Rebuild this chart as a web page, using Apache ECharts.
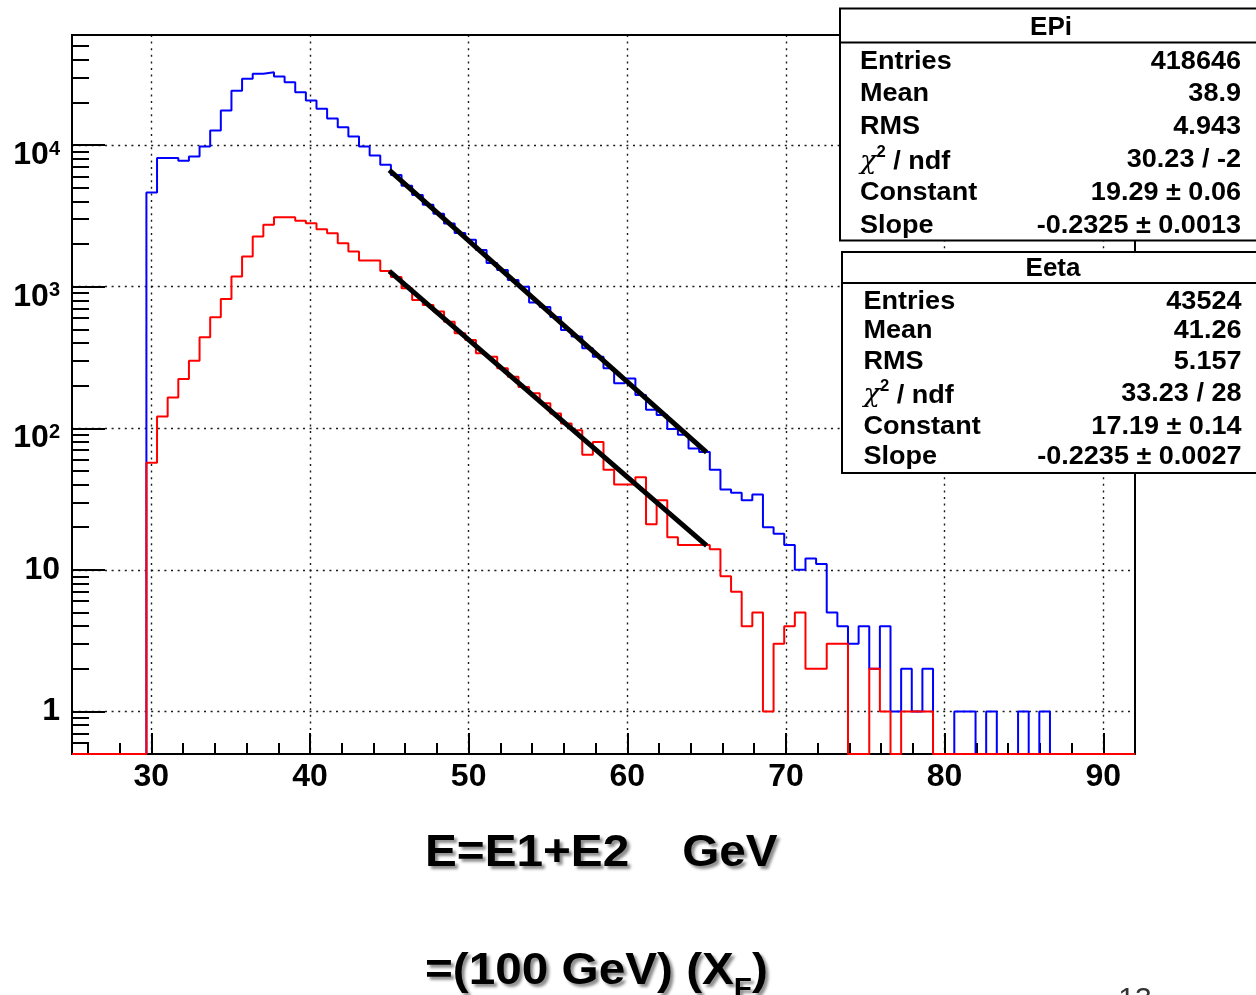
<!DOCTYPE html>
<html><head><meta charset="utf-8">
<script src="https://cdn.jsdelivr.net/npm/echarts@6/dist/echarts.min.js"></script>
<style>html,body{margin:0;padding:0;background:#fff;} #c{width:1256px;height:995px;}</style>
</head><body><div id="c"></div>
<script>
// ---------- data ----------
const binLow = 25;
const binWidth = 0.67;
// EPi (blue) bin contents, 100 bins from 25 to 92
const blueCounts = [
  0,0,0,0,0,0,0,4630,8110,8110,
  7760,8320,9790,12700,17600,24200,29500,31900,32700,30600,
  27800,23600,20700,18100,15400,13400,11500,9790,8450,7260,
  6150,5170,4450,3800,3270,2800,2400,2150,1820,1470,
  1315,1115,1000,775,720,610,495,445,367,320,
  265,208,225,172,135,124,99,90,72,68,
  51,37,35,31,34,20,18,15,10,12,
  11,5,4,3,4,2,4,1,2,1,
  2,0,0,1,1,0,1,0,0,1,
  0,1,0,0,0,0,0,0,0,0
];
// Eeta (red) bin contents
const redCounts = [
  0,0,0,0,0,0,0,57,121,165,
  223,300,439,608,820,1180,1633,2262,2735,3100,
  3100,2920,2810,2550,2390,2030,1770,1530,1530,1290,
  1170,976,807,743,667,566,469,421,339,320,
  265,231,196,177,150,127,108,97,65,80,
  51,40,40,45,21,31,17,15,15,15,
  14,9,7,4,5,1,3,4,5,2,
  2,3,3,0,0,2,1,0,1,1,
  1,0,0,0,0,0,0,0,0,0,
  0,0,0,0,0,0,0,0,0,0
];
// exponential fit lines (end points)
const blueFit = [[45, 6650], [65, 67.5]];
const redFit = [[45, 1290], [65, 14.8]];

const xTickValues = [30, 40, 50, 60, 70, 80, 90];
const xTickLabels = ['30', '40', '50', '60', '70', '80', '90'];
const xMinorTicks = [26,28,32,34,36,38,42,44,46,48,52,54,56,58,62,64,66,68,72,74,76,78,82,84,86,88];
const yTickValues = [1, 10, 100, 1000, 10000];
const yTickLabels = ['1', '10', '10^2', '10^3', '10^4'];
const yMinorTicks = [0.6,0.7,0.8,0.9,2,3,4,5,6,7,8,9,20,30,40,50,60,70,80,90,
  200,300,400,500,600,700,800,900,2000,3000,4000,5000,6000,7000,8000,9000,20000,30000,40000,50000];
const Y_MIN = 0.5, Y_MAX = 60000;

const epiTitle = 'EPi';
const epiLabels = ['Entries', 'Mean', 'RMS', 'χ2 / ndf', 'Constant', 'Slope'];
const epiValues = ['418646', '38.9', '4.943', '30.23 / -2', '19.29 ± 0.06', '-0.2325 ± 0.0013'];
const eetaTitle = 'Eeta';
const eetaLabels = ['Entries', 'Mean', 'RMS', 'χ2 / ndf', 'Constant', 'Slope'];
const eetaValues = ['43524', '41.26', '5.157', '33.23 / 28', '17.19 ± 0.14', '-0.2235 ± 0.0027'];

const xTitle1 = 'E=E1+E2    GeV';
const xTitle2 = ['=(100 GeV) (X', 'F', ')'];
const pageNo = '13';

// ---------- build ----------
function histPoints(counts) {
  const pts = [];
  for (let k = 0; k < counts.length; k++) {
    const v = counts[k] > 0 ? counts[k] : Y_MIN;
    pts.push([+(binLow + k * binWidth).toFixed(3), v]);
  }
  const last = counts[counts.length - 1] > 0 ? counts[counts.length - 1] : Y_MIN;
  pts.push([+(binLow + counts.length * binWidth).toFixed(3), last]);
  return pts;
}

const FONT = 'Liberation Sans, Arial, Helvetica, sans-serif';
const gridLine = { show: true, lineStyle: { color: '#000', width: 1.4, type: [2, 4.6], opacity: 0.9 } };

function yLabel(v) {
  let idx = -1;
  for (let i = 0; i < yTickValues.length; i++) {
    if (Math.abs(Math.log10(v) - Math.log10(yTickValues[i])) < 1e-6) idx = i;
  }
  if (idx < 0) return '';
  const s = yTickLabels[idx];
  if (s.indexOf('^') >= 0) {
    const p = s.split('^');
    return '{b|' + p[0] + '}{s|' + p[1] + '}';
  }
  return s;
}

const chart = echarts.init(document.getElementById('c'), null, { renderer: 'canvas' });

function statBox(x, y, w, h, sepY, title, titleX, titleY, labels, values, labelX, valueX, rowsY) {
  const els = [];
  els.push({ type: 'rect', z: 100, shape: { x: x, y: y, width: w, height: h },
    style: { fill: '#fff', stroke: '#000', lineWidth: 2 } });
  els.push({ type: 'line', z: 101, shape: { x1: x, y1: sepY, x2: x + w, y2: sepY },
    style: { stroke: '#000', lineWidth: 2 } });
  els.push({ type: 'text', z: 102, x: titleX, y: titleY,
    style: { text: title, font: 'bold 26px ' + FONT, fill: '#000', align: 'center', verticalAlign: 'middle',
      textAlign: 'center', textVerticalAlign: 'middle' } });
  for (let i = 0; i < labels.length; i++) {
    let lab = labels[i];
    let labStyle = { text: lab, font: 'bold 26px ' + FONT, fill: '#000', align: 'left', verticalAlign: 'middle',
      textAlign: 'left', textVerticalAlign: 'middle' };
    if (lab.indexOf('χ2') === 0) {
      labStyle = {
        text: '{c|χ}{s|2}{b|' + lab.slice(2) + '}',
        align: 'left', verticalAlign: 'middle', textAlign: 'left', textVerticalAlign: 'middle',
        rich: {
          c: { fontFamily: 'DejaVu Serif', fontStyle: 'italic', fontSize: 26, fill: '#000', lineHeight: 30, verticalAlign: 'bottom' },
          s: { fontFamily: FONT, fontWeight: 'bold', fontSize: 16, fill: '#000', lineHeight: 30, verticalAlign: 'top' },
          b: { fontFamily: FONT, fontWeight: 'bold', fontSize: 26, fill: '#000', lineHeight: 30, verticalAlign: 'bottom' }
        }
      };
    }
    els.push({ type: 'text', z: 102, x: labelX, y: rowsY[i], scaleX: 1.04, style: labStyle });
    els.push({ type: 'text', z: 102, x: valueX, y: rowsY[i], scaleX: 1.04,
      style: { text: values[i], font: 'bold 26px ' + FONT, fill: '#000', align: 'right', verticalAlign: 'middle',
        textAlign: 'right', textVerticalAlign: 'middle' } });
  }
  return els;
}

const graphics = [].concat(
  statBox(840, 8.5, 440, 232, 42.5, epiTitle, 1051, 28, epiLabels, epiValues, 860, 1241,
    [61.5, 93.5, 126.5, 160, 193, 225.5]),
  statBox(842, 252, 440, 221, 283, eetaTitle, 1053, 269, eetaLabels, eetaValues, 863.5, 1241.5,
    [301.5, 331, 362, 393.5, 426.5, 457])
);
graphics.push({ type: 'text', z: 102, x: 425, y: 854, scaleX: 1.06,
  style: { text: xTitle1, font: 'bold 45px ' + FONT, fill: '#000', align: 'left', verticalAlign: 'middle',
    textAlign: 'left', textVerticalAlign: 'middle',
    textShadowColor: 'rgba(0,0,0,0.45)', textShadowBlur: 3, textShadowOffsetX: 3, textShadowOffsetY: 3 } });
graphics.push({ type: 'text', z: 102, x: 425, y: 972, scaleX: 1.06,
  style: { text: '{b|' + xTitle2[0] + '}{u|' + xTitle2[1] + '}{b|' + xTitle2[2] + '}',
    align: 'left', verticalAlign: 'middle', textAlign: 'left', textVerticalAlign: 'middle',
    rich: {
      b: { fontFamily: FONT, fontWeight: 'bold', fontSize: 45, lineHeight: 45, fill: '#000', verticalAlign: 'top',
        textShadowColor: 'rgba(0,0,0,0.45)', textShadowBlur: 3, textShadowOffsetX: 3, textShadowOffsetY: 3 },
      u: { fontFamily: FONT, fontWeight: 'bold', fontSize: 28, lineHeight: 28, fill: '#000', verticalAlign: 'top', padding: [26, 0, 0, 0],
        textShadowColor: 'rgba(0,0,0,0.45)', textShadowBlur: 3, textShadowOffsetX: 3, textShadowOffsetY: 3 }
    } } });
graphics.push({ type: 'text', z: 102, x: 1135, y: 985,
  style: { text: pageNo, font: '30px ' + FONT, fill: '#333', align: 'center', verticalAlign: 'top',
    textAlign: 'center', textVerticalAlign: 'top' } });

const option = {
  animation: false,
  backgroundColor: '#fff',
  grid: { left: 72, right: 121, top: 35, bottom: 241, show: true, borderColor: '#000', borderWidth: 2, backgroundColor: '#fff' },
  xAxis: [
    { type: 'value', min: 25, max: 92, position: 'bottom',
      axisLine: { show: true, onZero: false, lineStyle: { color: '#000', width: 2 } },
      axisTick: { show: true, inside: true, length: 21, customValues: xTickValues, lineStyle: { color: '#000', width: 2 } },
      axisLabel: { show: true, customValues: xTickValues, margin: 7, color: '#000', fontSize: 32, fontWeight: 'bold', fontFamily: FONT,
        formatter: function (v) { const i = xTickValues.indexOf(Math.round(v)); return i >= 0 ? xTickLabels[i] : ''; } },
      splitLine: gridLine },
    { type: 'value', min: 25, max: 92, position: 'bottom',
      axisLine: { show: false, onZero: false },
      axisTick: { show: true, inside: true, length: 11, customValues: xMinorTicks, lineStyle: { color: '#000', width: 2 } },
      axisLabel: { show: false }, splitLine: { show: false } }
  ],
  yAxis: [
    { type: 'log', logBase: 10, min: Y_MIN, max: Y_MAX, position: 'left',
      axisLine: { show: true, onZero: false, lineStyle: { color: '#000', width: 2 } },
      axisTick: { show: true, inside: true, length: 33, customValues: yTickValues, lineStyle: { color: '#000', width: 2 } },
      axisLabel: { show: true, customValues: yTickValues, margin: 12, color: '#000', fontSize: 32, fontWeight: 'bold', fontFamily: FONT,
        formatter: yLabel,
        rich: {
          b: { fontFamily: FONT, fontWeight: 'bold', fontSize: 32, lineHeight: 32, color: '#000', padding: [10, 0, 0, 0], verticalAlign: 'top' },
          s: { fontFamily: FONT, fontWeight: 'bold', fontSize: 20, lineHeight: 20, color: '#000', padding: [10, 0, 0, 0], verticalAlign: 'top' }
        } },
      splitLine: gridLine },
    { type: 'log', logBase: 10, min: Y_MIN, max: Y_MAX, position: 'left',
      axisLine: { show: false, onZero: false },
      axisTick: { show: true, inside: true, length: 17, customValues: yMinorTicks, lineStyle: { color: '#000', width: 2 } },
      axisLabel: { show: false }, splitLine: { show: false } }
  ],
  series: [
    { name: 'EPi', type: 'line', step: 'end', data: histPoints(blueCounts), symbol: 'none', showSymbol: false, clip: false, z: 2,
      silent: true, lineStyle: { color: '#0000ff', width: 2 } },
    { name: 'EPi fit', type: 'line', data: blueFit, symbol: 'none', showSymbol: false, clip: false, z: 3,
      silent: true, lineStyle: { color: '#000', width: 5 } },
    { name: 'Eeta', type: 'line', step: 'end', data: histPoints(redCounts), symbol: 'none', showSymbol: false, clip: false, z: 4,
      silent: true, lineStyle: { color: '#ff0000', width: 2 } },
    { name: 'Eeta fit', type: 'line', data: redFit, symbol: 'none', showSymbol: false, clip: false, z: 5,
      silent: true, lineStyle: { color: '#000', width: 5 } }
  ],
  graphic: { elements: graphics }
};
chart.setOption(option);
</script>
</body></html>
